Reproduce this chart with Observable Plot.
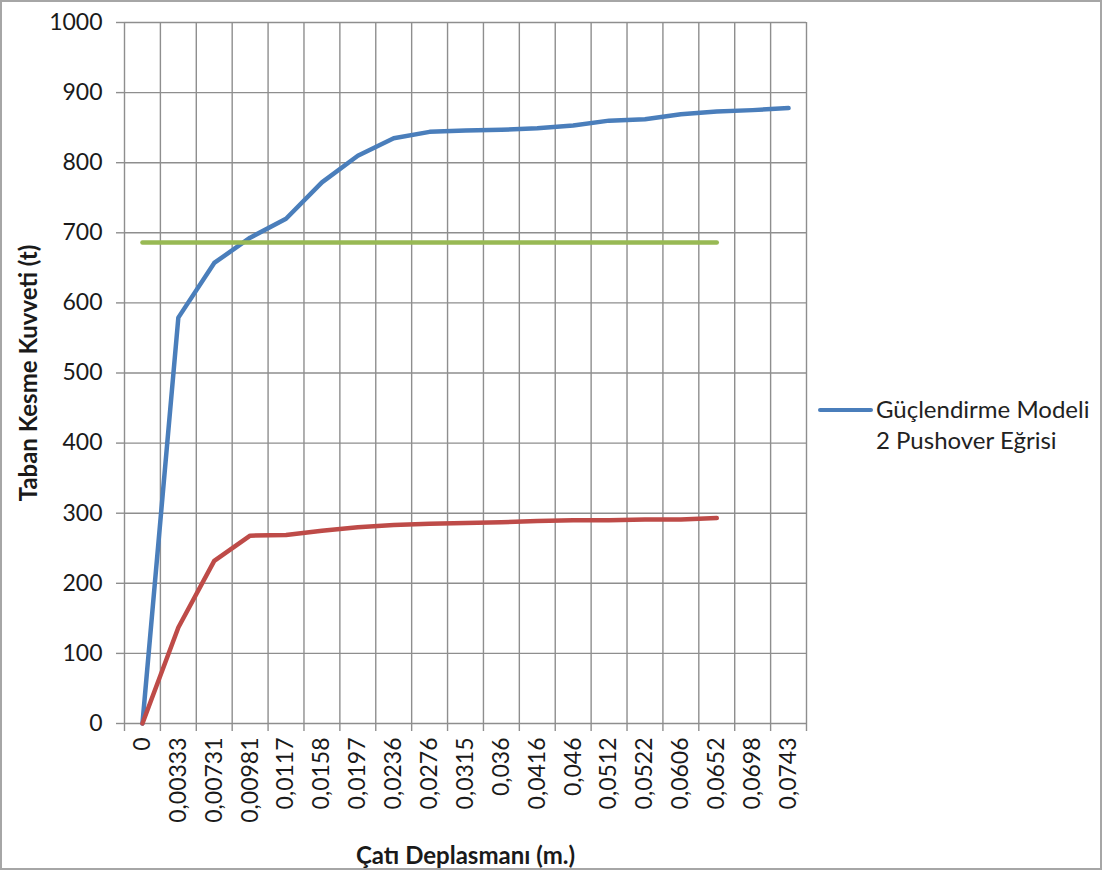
<!DOCTYPE html>
<html>
<head>
<meta charset="utf-8">
<script src="https://cdn.jsdelivr.net/npm/d3@7"></script>
<script src="https://cdn.jsdelivr.net/npm/@observablehq/plot@0.6"></script>
<style>
  body { margin: 0; background: #fff; }
  #wrap { position: relative; width: 1103px; height: 872px; overflow: hidden; background: #fff; }
  #border { position: absolute; left: 0; top: 0; width: 1102px; height: 870px; box-sizing: border-box; border: 2px solid #a6a6a6; pointer-events: none; }
  #legend { position: absolute; left: 818px; top: 393px; font-family: Lato, "Open Sans", sans-serif; font-size: 24px; line-height: 31px; color: #222; }
  #legend .sw { position: absolute; left: 0; top: 15px; width: 55px; height: 4px; background: #4a7ebb; border-radius: 2px; }
  #legend .tx { position: absolute; left: 58px; top: 0; white-space: nowrap; }
  g[aria-label="x-axis label"] text, g[aria-label="y-axis label"] text { font-weight: bold; font-size: 24px; }
</style>
</head>
<body>
<div id="wrap">
  <div id="chart"></div>
  <div id="legend"><div class="sw"></div><div class="tx">Güçlendirme Modeli<br>2 Pushover Eğrisi</div></div>
  <div id="border"></div>
</div>
<script>
// Category labels of the x axis (roof displacement, m)
const categories = ["0","0,00333","0,00731","0,00981","0,0117","0,0158","0,0197","0,0236","0,0276","0,0315","0,036","0,0416","0,046","0,0512","0,0522","0,0606","0,0652","0,0698","0,0743"];
// Series values (base shear, t)
const blueValues  = [0, 579, 657, 693, 720, 772, 810, 835, 844, 846, 847, 849, 853, 860, 862, 869, 873, 875, 878];
const redValues   = [0, 137, 232, 268, 269, 275, 280, 283, 285, 286, 287, 289, 290, 290, 291, 291, 293];
const greenValues = [686, 686, 686, 686, 686, 686, 686, 686, 686, 686, 686, 686, 686, 686, 686, 686, 686];
const yTicks = [0, 100, 200, 300, 400, 500, 600, 700, 800, 900, 1000];

const toRows = (vals) => vals.map((v, i) => ({i, v}));
const centers = categories.map((c, i) => i);
const edges = categories.map((c, i) => i - 0.5).concat([categories.length - 0.5]);

const gridStyle = {stroke: "#8e8e8e", strokeOpacity: 1, strokeWidth: 1.4};

const chart = Plot.plot({
  width: 1103,
  height: 872,
  marginLeft: 124,
  marginRight: 297,
  marginTop: 22,
  marginBottom: 149,
  style: {fontFamily: "Lato, 'Open Sans', sans-serif", fontSize: "23px", color: "#1a1a1a", background: "transparent"},
  x: {type: "linear", domain: [-0.5, categories.length - 0.5]},
  y: {domain: [0, 1000]},
  marks: [
    Plot.gridX(edges, gridStyle),
    Plot.gridY(yTicks, gridStyle),
    Plot.axisX(edges, {tickSize: 8, tickFormat: () => "", label: null, stroke: "#8e8e8e", strokeWidth: 1.4}),
    Plot.axisX(centers, {tickSize: 0, tickRotate: -90, tickPadding: 14, tickFormat: (i) => categories[i],
      label: "Çatı Deplasmanı (m.)", labelArrow: "none", labelAnchor: "center", labelOffset: 140}),
    Plot.axisY(yTicks, {tickSize: 8, tickPadding: 14, stroke: "#8e8e8e", strokeWidth: 1.4, tickFormat: (d) => String(d),
      label: "Taban Kesme Kuvveti (t)", labelArrow: "none", labelAnchor: "center", labelOffset: 105}),
    Plot.line(toRows(blueValues), {x: "i", y: "v", stroke: "#4a7ebb", strokeWidth: 4.5, strokeLinecap: "round", strokeLinejoin: "round"}),
    Plot.line(toRows(redValues), {x: "i", y: "v", stroke: "#be4b48", strokeWidth: 4.5, strokeLinecap: "round", strokeLinejoin: "round"}),
    Plot.line(toRows(greenValues), {x: "i", y: "v", stroke: "#98b954", strokeWidth: 4.5, strokeLinecap: "round", strokeLinejoin: "round"})
  ]
});
document.getElementById("chart").appendChild(chart);
</script>
</body>
</html>
